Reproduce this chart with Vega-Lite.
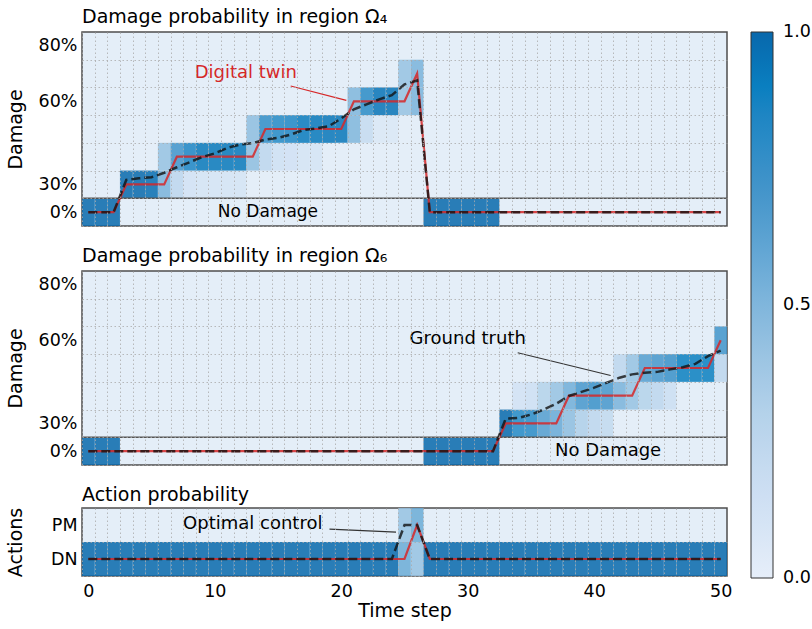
{
  "$schema": "https://vega.github.io/schema/vega-lite/v6.json",
  "padding": {"left": 5, "top": 7, "right": 0, "bottom": 0},
  "spacing": 19,
  "resolve": {"scale": {"color": "shared", "x": "independent", "y": "independent"}},
  "config": {
    "font": "DejaVu Sans",
    "view": {"stroke": "#4d4d4d", "strokeWidth": 1.5, "fill": "#e4eef8"},
    "title": {"fontSize": 19, "fontWeight": "normal", "anchor": "start", "frame": "group", "offset": 5, "color": "#000"},
    "axis": {"labelFontSize": 17.5, "titleFontSize": 19, "titleFontWeight": "normal", "labelColor": "#000", "titleColor": "#000", "gridColor": "#aaaaaa", "gridDash": [1.5, 2.5], "gridWidth": 0.8, "gridOpacity": 1, "domain": false, "ticks": false, "labelPadding": 5}
  },
  "datasets": {
    "cellsA": [
      {"t":0,"r":0,"v":1},{"t":1,"r":0,"v":1},{"t":2,"r":0,"v":1},
      {"t":27,"r":0,"v":1},{"t":28,"r":0,"v":1},{"t":29,"r":0,"v":1},{"t":30,"r":0,"v":1},{"t":31,"r":0,"v":1},{"t":32,"r":0,"v":1},
      {"t":3,"r":1,"v":1},{"t":4,"r":1,"v":1},{"t":5,"r":1,"v":0.98},{"t":6,"r":1,"v":0.52},{"t":7,"r":1,"v":0.25},{"t":8,"r":1,"v":0.12},{"t":9,"r":1,"v":0.1},{"t":10,"r":1,"v":0.1},{"t":11,"r":1,"v":0.1},{"t":12,"r":1,"v":0.1},
      {"t":6,"r":2,"v":0.42},{"t":7,"r":2,"v":0.72},{"t":8,"r":2,"v":0.85},{"t":9,"r":2,"v":0.93},{"t":10,"r":2,"v":0.93},{"t":11,"r":2,"v":0.93},{"t":12,"r":2,"v":0.93},{"t":13,"r":2,"v":0.45},{"t":14,"r":2,"v":0.25},{"t":15,"r":2,"v":0.14},{"t":16,"r":2,"v":0.13},{"t":17,"r":2,"v":0.1},{"t":18,"r":2,"v":0.1},
      {"t":13,"r":3,"v":0.45},{"t":14,"r":3,"v":0.78},{"t":15,"r":3,"v":0.82},{"t":16,"r":3,"v":0.84},{"t":17,"r":3,"v":0.92},{"t":18,"r":3,"v":0.93},{"t":19,"r":3,"v":0.94},{"t":20,"r":3,"v":0.94},{"t":21,"r":3,"v":0.5},{"t":22,"r":3,"v":0.2},{"t":23,"r":3,"v":0.07},{"t":24,"r":3,"v":0.07},
      {"t":21,"r":4,"v":0.5},{"t":22,"r":4,"v":0.8},{"t":23,"r":4,"v":0.95},{"t":24,"r":4,"v":0.95},{"t":25,"r":4,"v":0.42},{"t":26,"r":4,"v":0.52},
      {"t":25,"r":5,"v":0.42},{"t":26,"r":5,"v":0.52}
    ],
    "cellsB": [
      {"t":0,"r":0,"v":1},{"t":1,"r":0,"v":1},{"t":2,"r":0,"v":1},
      {"t":27,"r":0,"v":1},{"t":28,"r":0,"v":1},{"t":29,"r":0,"v":1},{"t":30,"r":0,"v":1},{"t":31,"r":0,"v":1},{"t":32,"r":0,"v":1},
      {"t":33,"r":1,"v":1},{"t":34,"r":1,"v":0.82},{"t":35,"r":1,"v":0.8},{"t":36,"r":1,"v":0.65},{"t":37,"r":1,"v":0.58},{"t":38,"r":1,"v":0.45},{"t":39,"r":1,"v":0.32},{"t":40,"r":1,"v":0.25},{"t":41,"r":1,"v":0.22},
      {"t":34,"r":2,"v":0.12},{"t":35,"r":2,"v":0.15},{"t":36,"r":2,"v":0.3},{"t":37,"r":2,"v":0.42},{"t":38,"r":2,"v":0.55},{"t":39,"r":2,"v":0.7},{"t":40,"r":2,"v":0.75},{"t":41,"r":2,"v":0.7},{"t":42,"r":2,"v":0.52},{"t":43,"r":2,"v":0.42},{"t":44,"r":2,"v":0.3},{"t":45,"r":2,"v":0.25},{"t":46,"r":2,"v":0.17},
      {"t":42,"r":3,"v":0.25},{"t":43,"r":3,"v":0.42},{"t":44,"r":3,"v":0.65},{"t":45,"r":3,"v":0.7},{"t":46,"r":3,"v":0.75},{"t":47,"r":3,"v":0.9},{"t":48,"r":3,"v":0.9},{"t":49,"r":3,"v":0.9},{"t":50,"r":3,"v":0.25},
      {"t":50,"r":4,"v":0.72}
    ],
    "cellsC": [
      {"t":0,"r":0,"v":1},{"t":1,"r":0,"v":1},{"t":2,"r":0,"v":1},{"t":3,"r":0,"v":1},{"t":4,"r":0,"v":1},{"t":5,"r":0,"v":1},{"t":6,"r":0,"v":1},{"t":7,"r":0,"v":1},{"t":8,"r":0,"v":1},{"t":9,"r":0,"v":1},
      {"t":10,"r":0,"v":1},{"t":11,"r":0,"v":1},{"t":12,"r":0,"v":1},{"t":13,"r":0,"v":1},{"t":14,"r":0,"v":1},{"t":15,"r":0,"v":1},{"t":16,"r":0,"v":1},{"t":17,"r":0,"v":1},{"t":18,"r":0,"v":1},{"t":19,"r":0,"v":1},
      {"t":20,"r":0,"v":1},{"t":21,"r":0,"v":1},{"t":22,"r":0,"v":1},{"t":23,"r":0,"v":1},{"t":24,"r":0,"v":1},{"t":25,"r":0,"v":0.57},{"t":26,"r":0,"v":0.42},{"t":27,"r":0,"v":1},{"t":28,"r":0,"v":1},{"t":29,"r":0,"v":1},
      {"t":30,"r":0,"v":1},{"t":31,"r":0,"v":1},{"t":32,"r":0,"v":1},{"t":33,"r":0,"v":1},{"t":34,"r":0,"v":1},{"t":35,"r":0,"v":1},{"t":36,"r":0,"v":1},{"t":37,"r":0,"v":1},{"t":38,"r":0,"v":1},{"t":39,"r":0,"v":1},
      {"t":40,"r":0,"v":1},{"t":41,"r":0,"v":1},{"t":42,"r":0,"v":1},{"t":43,"r":0,"v":1},{"t":44,"r":0,"v":1},{"t":45,"r":0,"v":1},{"t":46,"r":0,"v":1},{"t":47,"r":0,"v":1},{"t":48,"r":0,"v":1},{"t":49,"r":0,"v":1},{"t":50,"r":0,"v":1},
      {"t":25,"r":1,"v":0.42},{"t":26,"r":1,"v":0.57}
    ],
    "linesA": [
      {"t":0,"dt":0,"gt":0},{"t":1,"dt":0,"gt":0},{"t":2,"dt":0,"gt":0},{"t":3,"dt":1,"gt":1.16},{"t":4,"dt":1,"gt":1.22},{"t":5,"dt":1,"gt":1.26},{"t":6,"dt":1,"gt":1.42},{"t":7,"dt":2,"gt":1.62},{"t":8,"dt":2,"gt":1.8},{"t":9,"dt":2,"gt":1.99},
      {"t":10,"dt":2,"gt":2.12},{"t":11,"dt":2,"gt":2.32},{"t":12,"dt":2,"gt":2.44},{"t":13,"dt":2,"gt":2.49},{"t":14,"dt":3,"gt":2.62},{"t":15,"dt":3,"gt":2.68},{"t":16,"dt":3,"gt":2.8},{"t":17,"dt":3,"gt":2.96},{"t":18,"dt":3,"gt":3.02},{"t":19,"dt":3,"gt":3.1},
      {"t":20,"dt":3,"gt":3.38},{"t":21,"dt":4,"gt":3.71},{"t":22,"dt":4,"gt":3.89},{"t":23,"dt":4,"gt":4.07},{"t":24,"dt":4,"gt":4.22},{"t":25,"dt":4,"gt":4.61},{"t":26,"dt":5,"gt":4.75},{"t":27,"dt":0,"gt":0},{"t":28,"dt":0,"gt":0},{"t":29,"dt":0,"gt":0},
      {"t":30,"dt":0,"gt":0},{"t":31,"dt":0,"gt":0},{"t":32,"dt":0,"gt":0},{"t":33,"dt":0,"gt":0},{"t":34,"dt":0,"gt":0},{"t":35,"dt":0,"gt":0},{"t":36,"dt":0,"gt":0},{"t":37,"dt":0,"gt":0},{"t":38,"dt":0,"gt":0},{"t":39,"dt":0,"gt":0},
      {"t":40,"dt":0,"gt":0},{"t":41,"dt":0,"gt":0},{"t":42,"dt":0,"gt":0},{"t":43,"dt":0,"gt":0},{"t":44,"dt":0,"gt":0},{"t":45,"dt":0,"gt":0},{"t":46,"dt":0,"gt":0},{"t":47,"dt":0,"gt":0},{"t":48,"dt":0,"gt":0},{"t":49,"dt":0,"gt":0},{"t":50,"dt":0,"gt":0}
    ],
    "linesB": [
      {"t":0,"dt":0,"gt":0},{"t":1,"dt":0,"gt":0},{"t":2,"dt":0,"gt":0},{"t":3,"dt":0,"gt":0},{"t":4,"dt":0,"gt":0},{"t":5,"dt":0,"gt":0},{"t":6,"dt":0,"gt":0},{"t":7,"dt":0,"gt":0},{"t":8,"dt":0,"gt":0},{"t":9,"dt":0,"gt":0},
      {"t":10,"dt":0,"gt":0},{"t":11,"dt":0,"gt":0},{"t":12,"dt":0,"gt":0},{"t":13,"dt":0,"gt":0},{"t":14,"dt":0,"gt":0},{"t":15,"dt":0,"gt":0},{"t":16,"dt":0,"gt":0},{"t":17,"dt":0,"gt":0},{"t":18,"dt":0,"gt":0},{"t":19,"dt":0,"gt":0},
      {"t":20,"dt":0,"gt":0},{"t":21,"dt":0,"gt":0},{"t":22,"dt":0,"gt":0},{"t":23,"dt":0,"gt":0},{"t":24,"dt":0,"gt":0},{"t":25,"dt":0,"gt":0},{"t":26,"dt":0,"gt":0},{"t":27,"dt":0,"gt":0},{"t":28,"dt":0,"gt":0},{"t":29,"dt":0,"gt":0},
      {"t":30,"dt":0,"gt":0},{"t":31,"dt":0,"gt":0},{"t":32,"dt":0,"gt":0},{"t":33,"dt":1,"gt":1.17},{"t":34,"dt":1,"gt":1.2},{"t":35,"dt":1,"gt":1.32},{"t":36,"dt":1,"gt":1.5},{"t":37,"dt":1,"gt":1.71},{"t":38,"dt":2,"gt":1.99},{"t":39,"dt":2,"gt":2.14},
      {"t":40,"dt":2,"gt":2.29},{"t":41,"dt":2,"gt":2.47},{"t":42,"dt":2,"gt":2.65},{"t":43,"dt":2,"gt":2.77},{"t":44,"dt":3,"gt":2.83},{"t":45,"dt":3,"gt":2.86},{"t":46,"dt":3,"gt":2.95},{"t":47,"dt":3,"gt":3.03},{"t":48,"dt":3,"gt":3.15},{"t":49,"dt":3,"gt":3.43},{"t":50,"dt":4,"gt":3.63}
    ],
    "linesC": [
      {"t":0,"dt":0,"gt":0},{"t":1,"dt":0,"gt":0},{"t":2,"dt":0,"gt":0},{"t":3,"dt":0,"gt":0},{"t":4,"dt":0,"gt":0},{"t":5,"dt":0,"gt":0},{"t":6,"dt":0,"gt":0},{"t":7,"dt":0,"gt":0},{"t":8,"dt":0,"gt":0},{"t":9,"dt":0,"gt":0},
      {"t":10,"dt":0,"gt":0},{"t":11,"dt":0,"gt":0},{"t":12,"dt":0,"gt":0},{"t":13,"dt":0,"gt":0},{"t":14,"dt":0,"gt":0},{"t":15,"dt":0,"gt":0},{"t":16,"dt":0,"gt":0},{"t":17,"dt":0,"gt":0},{"t":18,"dt":0,"gt":0},{"t":19,"dt":0,"gt":0},
      {"t":20,"dt":0,"gt":0},{"t":21,"dt":0,"gt":0},{"t":22,"dt":0,"gt":0},{"t":23,"dt":0,"gt":0},{"t":24,"dt":0,"gt":0},{"t":25,"dt":0,"gt":1},{"t":26,"dt":1,"gt":1},{"t":27,"dt":0,"gt":0},{"t":28,"dt":0,"gt":0},{"t":29,"dt":0,"gt":0},
      {"t":30,"dt":0,"gt":0},{"t":31,"dt":0,"gt":0},{"t":32,"dt":0,"gt":0},{"t":33,"dt":0,"gt":0},{"t":34,"dt":0,"gt":0},{"t":35,"dt":0,"gt":0},{"t":36,"dt":0,"gt":0},{"t":37,"dt":0,"gt":0},{"t":38,"dt":0,"gt":0},{"t":39,"dt":0,"gt":0},
      {"t":40,"dt":0,"gt":0},{"t":41,"dt":0,"gt":0},{"t":42,"dt":0,"gt":0},{"t":43,"dt":0,"gt":0},{"t":44,"dt":0,"gt":0},{"t":45,"dt":0,"gt":0},{"t":46,"dt":0,"gt":0},{"t":47,"dt":0,"gt":0},{"t":48,"dt":0,"gt":0},{"t":49,"dt":0,"gt":0},{"t":50,"dt":0,"gt":0}
    ]
  },
  "vconcat": [
    {
      "width": 645, "height": 194,
      "title": {"text": "Damage probability in region Ω₄"},
      "layer": [
        {
          "data": {"name": "cellsA"},
          "mark": {"type": "rect", "width": 12.647, "height": 27.714, "fillOpacity": 0.85},
          "encoding": {
            "x": {"field": "t", "type": "quantitative", "scale": {"domain": [-0.5, 50.5], "nice": false, "zero": false},
                  "axis": {"orient": "bottom", "values": [-0.5,0.5,1.5,2.5,3.5,4.5,5.5,6.5,7.5,8.5,9.5,10.5,11.5,12.5,13.5,14.5,15.5,16.5,17.5,18.5,19.5,20.5,21.5,22.5,23.5,24.5,25.5,26.5,27.5,28.5,29.5,30.5,31.5,32.5,33.5,34.5,35.5,36.5,37.5,38.5,39.5,40.5,41.5,42.5,43.5,44.5,45.5,46.5,47.5,48.5,49.5], "tickCount": 200, "labels": false, "grid": true, "title": null, "zindex": 1, "labelOverlap": false}},
            "y": {"field": "r", "type": "quantitative", "scale": {"domain": [-0.5, 6.5], "nice": false, "zero": false},
                  "axis": {"orient": "left", "values": [-0.5,0.5,1.5,2.5,3.5,4.5,5.5], "tickCount": 200, "labelExpr": "datum.value==-0.5?'0%':datum.value==0.5?'30%':datum.value==3.5?'60%':datum.value==5.5?'80%':''", "labelOffset": -13.857, "labelOverlap": false, "labelFlush": false, "labelBound": false, "grid": true, "title": "Damage", "titleX": -57, "zindex": 1}},
            "color": {"field": "v", "type": "quantitative",
                      "scale": {"domain": [0,0.1,0.2,0.3,0.4,0.5,0.6,0.7,0.8,0.9,1], "range": ["#e6eef9","#d5e4f5","#c6dbf0","#b4d2ea","#9cc5e3","#80b6dc","#62a6d4","#4696cb","#2a8bc6","#0a7fc0","#0868ac"]},
                      "legend": {"title": null, "orient": "none", "legendX": 669, "legendY": 0, "direction": "vertical", "gradientLength": 546, "gradientThickness": 22, "gradientStrokeColor": "#333", "gradientStrokeWidth": 1, "values": [0, 0.5, 1], "format": ".1f", "labelFontSize": 17.5, "labelOffset": 10, "labelBaseline": "middle", "labelColor": "#000", "padding": 0, "encode": {"labels": {"update": {"baseline": {"value": "middle"}}}}}}
          }
        },
        {
          "data": {"values": [{"r": 0.5}]},
          "mark": {"type": "rule", "color": "#555", "strokeWidth": 1.5},
          "encoding": {"y": {"field": "r", "type": "quantitative", "scale": {"domain": [-0.5, 6.5], "nice": false, "zero": false}}}
        },
        {
          "data": {"name": "linesA"},
          "mark": {"type": "line", "color": "#d62728", "strokeWidth": 2.2, "opacity": 0.85},
          "encoding": {
            "x": {"field": "t", "type": "quantitative", "scale": {"domain": [-0.5, 50.5], "nice": false, "zero": false}},
            "y": {"field": "dt", "type": "quantitative", "scale": {"domain": [-0.5, 6.5], "nice": false, "zero": false}}
          }
        },
        {
          "data": {"name": "linesA"},
          "mark": {"type": "line", "color": "#111", "strokeWidth": 2.5, "strokeDash": [9, 4], "opacity": 0.8},
          "encoding": {
            "x": {"field": "t", "type": "quantitative", "scale": {"domain": [-0.5, 50.5], "nice": false, "zero": false}},
            "y": {"field": "gt", "type": "quantitative", "scale": {"domain": [-0.5, 6.5], "nice": false, "zero": false}}
          }
        },
        {
          "data": {"values": [{"t": 16.0, "r": 4.55, "t2": 20.4, "r2": 4.03}]},
          "mark": {"type": "rule", "color": "#d62728", "strokeWidth": 1.2},
          "encoding": {
            "x": {"field": "t", "type": "quantitative", "scale": {"domain": [-0.5, 50.5], "nice": false, "zero": false}},
            "x2": {"field": "t2"},
            "y": {"field": "r", "type": "quantitative", "scale": {"domain": [-0.5, 6.5], "nice": false, "zero": false}},
            "y2": {"field": "r2"}
          }
        },
        {
          "data": {"values": [{"t": 12.45, "r": 5.02, "label": "Digital twin"}]},
          "mark": {"type": "text", "color": "#d62728", "fontSize": 18},
          "encoding": {
            "x": {"field": "t", "type": "quantitative", "scale": {"domain": [-0.5, 50.5], "nice": false, "zero": false}},
            "y": {"field": "r", "type": "quantitative", "scale": {"domain": [-0.5, 6.5], "nice": false, "zero": false}},
            "text": {"field": "label"}
          }
        },
        {
          "data": {"values": [{"t": 14.2, "r": 0, "label": "No Damage"}]},
          "mark": {"type": "text", "color": "#000", "fontSize": 17},
          "encoding": {
            "x": {"field": "t", "type": "quantitative", "scale": {"domain": [-0.5, 50.5], "nice": false, "zero": false}},
            "y": {"field": "r", "type": "quantitative", "scale": {"domain": [-0.5, 6.5], "nice": false, "zero": false}},
            "text": {"field": "label"}
          }
        }
      ]
    },
    {
      "width": 645, "height": 194,
      "title": {"text": "Damage probability in region Ω₆"},
      "layer": [
        {
          "data": {"name": "cellsB"},
          "mark": {"type": "rect", "width": 12.647, "height": 27.714, "fillOpacity": 0.85},
          "encoding": {
            "x": {"field": "t", "type": "quantitative", "scale": {"domain": [-0.5, 50.5], "nice": false, "zero": false},
                  "axis": {"orient": "bottom", "values": [-0.5,0.5,1.5,2.5,3.5,4.5,5.5,6.5,7.5,8.5,9.5,10.5,11.5,12.5,13.5,14.5,15.5,16.5,17.5,18.5,19.5,20.5,21.5,22.5,23.5,24.5,25.5,26.5,27.5,28.5,29.5,30.5,31.5,32.5,33.5,34.5,35.5,36.5,37.5,38.5,39.5,40.5,41.5,42.5,43.5,44.5,45.5,46.5,47.5,48.5,49.5], "tickCount": 200, "labels": false, "grid": true, "title": null, "zindex": 1, "labelOverlap": false}},
            "y": {"field": "r", "type": "quantitative", "scale": {"domain": [-0.5, 6.5], "nice": false, "zero": false},
                  "axis": {"orient": "left", "values": [-0.5,0.5,1.5,2.5,3.5,4.5,5.5], "tickCount": 200, "labelExpr": "datum.value==-0.5?'0%':datum.value==0.5?'30%':datum.value==3.5?'60%':datum.value==5.5?'80%':''", "labelOffset": -13.857, "labelOverlap": false, "labelFlush": false, "labelBound": false, "grid": true, "title": "Damage", "titleX": -57, "zindex": 1}},
            "color": {"field": "v", "type": "quantitative",
                      "scale": {"domain": [0,0.1,0.2,0.3,0.4,0.5,0.6,0.7,0.8,0.9,1], "range": ["#e6eef9","#d5e4f5","#c6dbf0","#b4d2ea","#9cc5e3","#80b6dc","#62a6d4","#4696cb","#2a8bc6","#0a7fc0","#0868ac"]},
                      "legend": {"title": null, "orient": "none", "legendX": 669, "legendY": 0, "direction": "vertical", "gradientLength": 546, "gradientThickness": 22, "gradientStrokeColor": "#333", "gradientStrokeWidth": 1, "values": [0, 0.5, 1], "format": ".1f", "labelFontSize": 17.5, "labelOffset": 10, "labelBaseline": "middle", "labelColor": "#000", "padding": 0, "encode": {"labels": {"update": {"baseline": {"value": "middle"}}}}}}
          }
        },
        {
          "data": {"values": [{"r": 0.5}]},
          "mark": {"type": "rule", "color": "#555", "strokeWidth": 1.5},
          "encoding": {"y": {"field": "r", "type": "quantitative", "scale": {"domain": [-0.5, 6.5], "nice": false, "zero": false}}}
        },
        {
          "data": {"name": "linesB"},
          "mark": {"type": "line", "color": "#d62728", "strokeWidth": 2.2, "opacity": 0.85},
          "encoding": {
            "x": {"field": "t", "type": "quantitative", "scale": {"domain": [-0.5, 50.5], "nice": false, "zero": false}},
            "y": {"field": "dt", "type": "quantitative", "scale": {"domain": [-0.5, 6.5], "nice": false, "zero": false}}
          }
        },
        {
          "data": {"name": "linesB"},
          "mark": {"type": "line", "color": "#111", "strokeWidth": 2.5, "strokeDash": [9, 4], "opacity": 0.8},
          "encoding": {
            "x": {"field": "t", "type": "quantitative", "scale": {"domain": [-0.5, 50.5], "nice": false, "zero": false}},
            "y": {"field": "gt", "type": "quantitative", "scale": {"domain": [-0.5, 6.5], "nice": false, "zero": false}}
          }
        },
        {
          "data": {"values": [{"t": 33.95, "r": 3.55, "t2": 41.3, "r2": 2.73}]},
          "mark": {"type": "rule", "color": "#333", "strokeWidth": 1.2},
          "encoding": {
            "x": {"field": "t", "type": "quantitative", "scale": {"domain": [-0.5, 50.5], "nice": false, "zero": false}},
            "x2": {"field": "t2"},
            "y": {"field": "r", "type": "quantitative", "scale": {"domain": [-0.5, 6.5], "nice": false, "zero": false}},
            "y2": {"field": "r2"}
          }
        },
        {
          "data": {"values": [{"t": 30.0, "r": 4.03, "label": "Ground truth"}, {"t": 41.1, "r": 0, "label": "No Damage"}]},
          "mark": {"type": "text", "color": "#000", "fontSize": 18},
          "encoding": {
            "x": {"field": "t", "type": "quantitative", "scale": {"domain": [-0.5, 50.5], "nice": false, "zero": false}},
            "y": {"field": "r", "type": "quantitative", "scale": {"domain": [-0.5, 6.5], "nice": false, "zero": false}},
            "text": {"field": "label"}
          }
        }
      ]
    },
    {
      "width": 645, "height": 68,
      "title": {"text": "Action probability", "offset": 2},
      "layer": [
        {
          "data": {"name": "cellsC"},
          "mark": {"type": "rect", "width": 12.647, "height": 34, "fillOpacity": 0.85},
          "encoding": {
            "x": {"field": "t", "type": "quantitative", "scale": {"domain": [-0.5, 50.5], "nice": false, "zero": false},
                  "axis": {"orient": "bottom", "values": [-0.5,0.5,1.5,2.5,3.5,4.5,5.5,6.5,7.5,8.5,9.5,10.5,11.5,12.5,13.5,14.5,15.5,16.5,17.5,18.5,19.5,20.5,21.5,22.5,23.5,24.5,25.5,26.5,27.5,28.5,29.5,30.5,31.5,32.5,33.5,34.5,35.5,36.5,37.5,38.5,39.5,40.5,41.5,42.5,43.5,44.5,45.5,46.5,47.5,48.5,49.5], "tickCount": 200, "labelExpr": "(datum.value+0.5)%10==0?format(datum.value+0.5,'d'):''", "labelOffset": 6.32, "labelPadding": 6, "labelOverlap": false, "labelFlush": false, "labelBound": false, "grid": true, "title": "Time step", "titlePadding": 2, "zindex": 1}},
            "y": {"field": "r", "type": "quantitative", "scale": {"domain": [-0.5, 1.5], "nice": false, "zero": false},
                  "axis": {"orient": "left", "values": [-0.5, 0.5], "tickCount": 200, "labelExpr": "datum.value==-0.5?'DN':datum.value==0.5?'PM':''", "labelOffset": -17, "labelOverlap": false, "labelFlush": false, "labelBound": false, "grid": true, "title": "Actions", "titleX": -57, "zindex": 1}},
            "color": {"field": "v", "type": "quantitative",
                      "scale": {"domain": [0,0.1,0.2,0.3,0.4,0.5,0.6,0.7,0.8,0.9,1], "range": ["#e6eef9","#d5e4f5","#c6dbf0","#b4d2ea","#9cc5e3","#80b6dc","#62a6d4","#4696cb","#2a8bc6","#0a7fc0","#0868ac"]},
                      "legend": {"title": null, "orient": "none", "legendX": 669, "legendY": 0, "direction": "vertical", "gradientLength": 546, "gradientThickness": 22, "gradientStrokeColor": "#333", "gradientStrokeWidth": 1, "values": [0, 0.5, 1], "format": ".1f", "labelFontSize": 17.5, "labelOffset": 10, "labelBaseline": "middle", "labelColor": "#000", "padding": 0, "encode": {"labels": {"update": {"baseline": {"value": "middle"}}}}}}
          }
        },
        {
          "data": {"name": "linesC"},
          "mark": {"type": "line", "color": "#d62728", "strokeWidth": 2.2, "opacity": 0.85},
          "encoding": {
            "x": {"field": "t", "type": "quantitative", "scale": {"domain": [-0.5, 50.5], "nice": false, "zero": false}},
            "y": {"field": "dt", "type": "quantitative", "scale": {"domain": [-0.5, 1.5], "nice": false, "zero": false}}
          }
        },
        {
          "data": {"name": "linesC"},
          "mark": {"type": "line", "color": "#111", "strokeWidth": 2.5, "strokeDash": [9, 4], "opacity": 0.8},
          "encoding": {
            "x": {"field": "t", "type": "quantitative", "scale": {"domain": [-0.5, 50.5], "nice": false, "zero": false}},
            "y": {"field": "gt", "type": "quantitative", "scale": {"domain": [-0.5, 1.5], "nice": false, "zero": false}}
          }
        },
        {
          "data": {"values": [{"t": 19.07, "r": 0.88, "t2": 24.33, "r2": 0.79}]},
          "mark": {"type": "rule", "color": "#333", "strokeWidth": 1.2},
          "encoding": {
            "x": {"field": "t", "type": "quantitative", "scale": {"domain": [-0.5, 50.5], "nice": false, "zero": false}},
            "x2": {"field": "t2"},
            "y": {"field": "r", "type": "quantitative", "scale": {"domain": [-0.5, 1.5], "nice": false, "zero": false}},
            "y2": {"field": "r2"}
          }
        },
        {
          "data": {"values": [{"t": 13.0, "r": 1.03, "label": "Optimal control"}]},
          "mark": {"type": "text", "color": "#000", "fontSize": 18},
          "encoding": {
            "x": {"field": "t", "type": "quantitative", "scale": {"domain": [-0.5, 50.5], "nice": false, "zero": false}},
            "y": {"field": "r", "type": "quantitative", "scale": {"domain": [-0.5, 1.5], "nice": false, "zero": false}},
            "text": {"field": "label"}
          }
        }
      ]
    }
  ]
}
